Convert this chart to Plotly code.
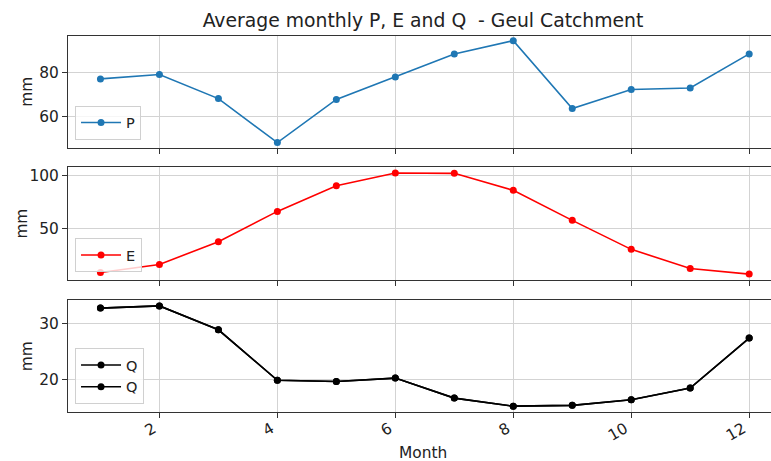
import plotly.graph_objects as go

months = list(range(1, 13))
P = [77.1, 79.1, 68.2, 48.3, 67.8, 78.0, 88.4, 94.4, 63.7, 72.3, 73.0, 88.4]
E = [8.2, 15.8, 37.3, 66.1, 90.5, 102.5, 102.2, 86.1, 57.6, 30.1, 12.0, 6.6]
Q = [32.8, 33.2, 28.9, 19.8, 19.6, 20.2, 16.6, 15.15, 15.3, 16.3, 18.4, 27.4]

title_text = "Average monthly P, E and Q  - Geul Catchment"
FONT = "DejaVu Sans"
FS = 15.4

fig = go.Figure()

def add(y, name, color, yax, legend):
    fig.add_trace(go.Scatter(
        x=months, y=y, name=name, mode="lines+markers",
        line=dict(color=color, width=1.6),
        marker=dict(color=color, size=7),
        xaxis="x" if yax == "y" else "x" + yax[1:], yaxis=yax, legend=legend))

add(P, "P", "#1f77b4", "y", "legend")
add(E, "E", "#ff0000", "y2", "legend2")
add(Q, "Q", "#000000", "y3", "legend3")
add(Q, "Q", "#000000", "y3", "legend3")

axis_common = dict(
    showline=True, linecolor="#333333", linewidth=1, mirror=True,
    showgrid=True, gridcolor="#d3d3d3", gridwidth=1,
    ticks="outside", ticklen=5, tickcolor="#333333", tickwidth=1,
    zeroline=False, automargin=False,
    tickfont=dict(family=FONT, size=FS, color="#222"),
)

xr = [0.45, 12.37]
tickvals = [2, 4, 6, 8, 10, 12]
fig.update_layout(
    xaxis=dict(**axis_common, domain=[0, 1], range=xr, anchor="y", tickvals=tickvals, showticklabels=False, matches="x3"),
    xaxis2=dict(**axis_common, domain=[0, 1], range=xr, anchor="y2", tickvals=tickvals, showticklabels=False, matches="x3"),
    xaxis3=dict(**axis_common, domain=[0, 1], range=xr, anchor="y3", tickvals=tickvals, tickangle=-30,
                ticklabelshift=-6, ticklabelstandoff=-4),
    yaxis=dict(**axis_common, domain=[0.703, 1.0], range=[46.0, 96.5], tickvals=[60, 80], anchor="x"),
    yaxis2=dict(**axis_common, domain=[0.351, 0.651], range=[1.0, 108.0], tickvals=[50, 100], anchor="x2"),
    yaxis3=dict(**axis_common, domain=[0.0, 0.297], range=[14.1, 34.2], tickvals=[20, 30], anchor="x3"),
)

lab_font = dict(family=FONT, size=FS, color="#222")
W = 703.0
annotations = [
    dict(text="mm", xref="paper", yref="paper", x=(27 - 68) / W, y=(0.703 + 1.0) / 2,
         textangle=-90, showarrow=False, font=lab_font, xanchor="center", yanchor="middle"),
    dict(text="mm", xref="paper", yref="paper", x=(22 - 68) / W, y=(0.351 + 0.651) / 2,
         textangle=-90, showarrow=False, font=lab_font, xanchor="center", yanchor="middle"),
    dict(text="mm", xref="paper", yref="paper", x=(27 - 68) / W, y=0.297 / 2,
         textangle=-90, showarrow=False, font=lab_font, xanchor="center", yanchor="middle"),
    dict(text="Month", xref="paper", yref="paper", x=(423 - 68) / W, y=-(453 - 412) / 376.0,
         showarrow=False, font=lab_font, xanchor="center", yanchor="middle"),
]

leg_common = dict(xanchor="left", yanchor="bottom", bgcolor="rgba(255,255,255,0.8)",
                  bordercolor="#d0d0d0", borderwidth=1, itemwidth=40,
                  font=dict(family=FONT, size=14.5, color="#222"))
fig.update_layout(
    legend=dict(**leg_common, x=0.01, y=(412 - 139.5) / 376.0),
    legend2=dict(**leg_common, x=0.01, y=(412 - 272) / 376.0),
    legend3=dict(**leg_common, x=0.01, y=(412 - 404) / 376.0),
)

fig.update_layout(
    width=771, height=461,
    margin=dict(l=68, r=0, t=36, b=49),
    paper_bgcolor="white", plot_bgcolor="white",
    font=dict(family=FONT, size=FS, color="#222"),
    annotations=annotations,
    title=dict(text=title_text, x=0.505, xref="paper", xanchor="center",
               y=1 - 20 / 461, yref="container", yanchor="middle",
               font=dict(family=FONT, size=18.8, color="#222"), automargin=False),
    showlegend=True,
)

fig.write_html("out.html", config={"displayModeBar": False},
               post_script="document.body.style.margin='0';document.body.style.overflow='hidden';")
